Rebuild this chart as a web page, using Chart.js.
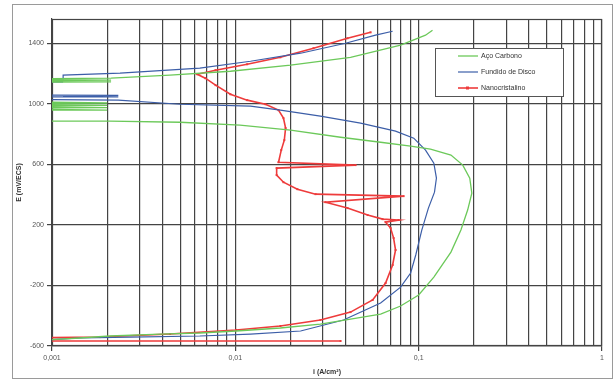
<!DOCTYPE html>
<html>
<head>
<meta charset="utf-8">
<script src="https://cdn.jsdelivr.net/npm/chart.js@4"></script>
<style>
  html, body { margin: 0; padding: 0; background: #fff; }
  canvas { display: block; }
</style>
</head>
<body>
<canvas id="curvas" width="615" height="381"></canvas>
<script>
// Polarization curves: potential E (mV) versus current density i (A/cm²)
const seriesNames = ['Aço Carbono', 'Fundido de Disco', 'Nanocristalino'];

// Aço Carbono
const acoCurrent = [0.00092, 0.00142, 0.00207, 0.0039, 0.0064, 0.0101, 0.0176, 0.0291, 0.0425, 0.062,
  0.0797, 0.1, 0.121, 0.15, 0.17, 0.185, 0.195, 0.19, 0.174, 0.15,
  0.116, 0.0904, 0.062, 0.0375, 0.02, 0.0106, 0.005, 0.00207, 0.0004,
  0.0004, 0.002, 0.0004, 0.002, 0.0004, 0.002, 0.0004, 0.002, 0.0004,
  0.0004, 0.0021, 0.0004, 0.0021, 0.0004, 0.0021,
  0.0044, 0.0094, 0.02, 0.0425, 0.0797, 0.109, 0.119];
const acoPotential = [-560, -547, -534, -521, -514, -501, -481, -455, -422, -389,
  -336, -263, -145, 20, 166, 298, 410, 509, 595, 661,
  700, 720, 746, 779, 826, 859, 878, 885, 885,
  958, 958, 970, 975, 985, 990, 1000, 1005, 1020,
  1142, 1145, 1150, 1156, 1162, 1169,
  1189, 1215, 1255, 1307, 1387, 1453, 1486];

// Fundido de Disco
const fundidoCurrent = [0.00092, 0.00142, 0.00267, 0.0064, 0.0121, 0.0227, 0.0389, 0.062, 0.0797, 0.0904,
  0.0964, 0.104, 0.113, 0.122, 0.125, 0.121, 0.109, 0.094, 0.0748, 0.0482,
  0.0291, 0.0176, 0.0121, 0.005, 0.0023, 0.0004,
  0.0004, 0.0023, 0.00115, 0.0023, 0.0004,
  0.0004, 0.00115, 0.0004, 0.00115,
  0.00115, 0.00235, 0.0064, 0.0121, 0.0227, 0.0399, 0.0582, 0.0721];
const fundidoPotential = [-560, -547, -541, -534, -521, -501, -428, -316, -211, -118,
  1, 166, 311, 416, 509, 608, 694, 773, 819, 872,
  918, 958, 984, 997, 1024, 1030,
  1045, 1045, 1050, 1055, 1060,
  1142, 1145, 1155, 1165,
  1189, 1202, 1235, 1281, 1334, 1400, 1453, 1479];

// Nanocristalino
const nanoCurrent = [0.0375, 0.0004, 0.0004, 0.00183, 0.0044, 0.0101, 0.0176, 0.0291, 0.0425, 0.0561,
  0.066, 0.0721, 0.0748, 0.073, 0.0703, 0.066, 0.0778, 0.0636, 0.0527, 0.0409,
  0.031, 0.0828, 0.0274, 0.0218, 0.0183, 0.0168, 0.0168, 0.0453, 0.0172, 0.0178,
  0.0185, 0.0188, 0.0183, 0.0172, 0.0146, 0.0116, 0.0094, 0.0078, 0.00686, 0.0062,
  0.0078, 0.0116, 0.0176, 0.0267, 0.0409, 0.0547];
const nanoPotential = [-567, -567, -550, -541, -521, -494, -468, -428, -376, -296,
  -184, -65, 34, 113, 179, 218, 232, 238, 265, 311,
  350, 390, 403, 436, 482, 529, 575, 595, 614, 694,
  760, 839, 905, 958, 997, 1024, 1063, 1123, 1169, 1195,
  1222, 1261, 1307, 1367, 1433, 1472];

// Axis ticks
const yTickValues = [-600, -200, 200, 600, 1000, 1400];
const xTickValues = [0.001, 0.01, 0.1, 1];
const xTickLabels = ['0,001', '0,01', '0,1', '1'];

const toPoints = (xs, ys) => xs.map((v, k) => ({ x: v, y: ys[k] }));
const isDecade = v => xTickValues.findIndex(d => Math.abs(v - d) / d < 1e-9);

const FONT = "'Liberation Sans', Arial, sans-serif";
const GRID = '#444';

// White background, outer frame and plot-area frame
const framePlugin = {
  id: 'framePlugin',
  beforeDraw(chart) {
    const { ctx, width, height } = chart;
    ctx.save();
    ctx.fillStyle = '#fff';
    ctx.fillRect(0, 0, width, height);
    ctx.strokeStyle = '#9a9a9a';
    ctx.lineWidth = 1;
    ctx.strokeRect(12.5, 4.5, width - 15, height - 7);
    ctx.restore();
  },
  beforeDatasetsDraw(chart) {
    const { ctx, chartArea: a } = chart;
    ctx.save();
    ctx.strokeStyle = GRID;
    ctx.lineWidth = 1.2;
    ctx.strokeRect(a.left + 0.5, a.top + 0.5, a.right - a.left - 1, a.bottom - a.top - 1);
    ctx.restore();
  }
};

// Legend box drawn inside the plot area, upper right
const insideLegend = {
  id: 'insideLegend',
  afterDatasetsDraw(chart) {
    const { ctx, chartArea: a } = chart;
    const w = a.right - a.left, h = a.bottom - a.top;
    const x0 = Math.round(a.left + w * 0.696), y0 = Math.round(a.top + h * 0.089);
    const bw = Math.round(w * 0.233), bh = Math.round(h * 0.147);
    ctx.save();
    ctx.fillStyle = '#fff';
    ctx.fillRect(x0, y0, bw, bh);
    ctx.strokeStyle = '#555';
    ctx.lineWidth = 1;
    ctx.strokeRect(x0 + 0.5, y0 + 0.5, bw, bh);
    ctx.font = '7px ' + FONT;
    ctx.textBaseline = 'middle';
    chart.data.datasets.forEach((ds, k) => {
      const yy = y0 + 8 + k * 16;
      ctx.strokeStyle = ds.borderColor;
      ctx.lineWidth = ds.borderWidth;
      ctx.beginPath();
      ctx.moveTo(x0 + 23, yy);
      ctx.lineTo(x0 + 43, yy);
      ctx.stroke();
      if (ds.pointRadius > 0) {
        ctx.fillStyle = ds.borderColor;
        ctx.fillRect(x0 + 31, yy - 1.5, 3, 3);
      }
      ctx.fillStyle = '#333';
      ctx.fillText(ds.label, x0 + 46, yy);
    });
    ctx.restore();
  }
};

new Chart(document.getElementById('curvas'), {
  type: 'scatter',
  data: {
    datasets: [
      {
        label: seriesNames[0],
        data: toPoints(acoCurrent, acoPotential),
        showLine: true,
        borderColor: '#6cc95a',
        backgroundColor: '#6cc95a',
        borderWidth: 1.3,
        pointRadius: 0
      },
      {
        label: seriesNames[1],
        data: toPoints(fundidoCurrent, fundidoPotential),
        showLine: true,
        borderColor: '#3c5ea8',
        backgroundColor: '#3c5ea8',
        borderWidth: 1.2,
        pointRadius: 0
      },
      {
        label: seriesNames[2],
        data: toPoints(nanoCurrent, nanoPotential),
        showLine: true,
        borderColor: '#ee3b3b',
        backgroundColor: '#ee3b3b',
        borderWidth: 1.6,
        pointRadius: 1.4,
        pointStyle: 'rect',
        pointBorderWidth: 0
      }
    ]
  },
  options: {
    responsive: false,
    devicePixelRatio: 1,
    animation: false,
    layout: { padding: { left: 0, top: 19, right: 13, bottom: 0 } },
    plugins: {
      legend: { display: false },
      tooltip: { enabled: false }
    },
    scales: {
      x: {
        type: 'logarithmic',
        position: 'bottom',
        min: xTickValues[0],
        max: xTickValues[xTickValues.length - 1],
        afterBuildTicks(scale) {
          const t = [];
          for (let d = 0; d < xTickValues.length - 1; d++) {
            for (let m = 1; m < 10; m++) t.push({ value: xTickValues[d] * m });
          }
          t.push({ value: xTickValues[xTickValues.length - 1] });
          scale.ticks = t;
        },
        afterFit(scale) { scale.height = 35; },
        grid: {
          color: GRID,
          lineWidth: 1.2,
          tickLength: 5,
          tickColor: c => (c.tick && isDecade(c.tick.value) >= 0) ? GRID : 'rgba(0,0,0,0)'
        },
        border: { display: true, color: GRID, width: 1.2 },
        ticks: {
          autoSkip: false,
          maxRotation: 0,
          padding: 3,
          color: '#555',
          font: { family: FONT, size: 7 },
          callback: v => { const k = isDecade(v); return k >= 0 ? xTickLabels[k] : ''; }
        },
        title: {
          display: true,
          text: 'i (A/cm²)',
          color: '#333',
          font: { family: FONT, size: 7, weight: 'bold' },
          padding: { top: 0, bottom: 5 }
        }
      },
      y: {
        type: 'linear',
        min: -600,
        max: 1560,
        afterBuildTicks(scale) { scale.ticks = yTickValues.map(v => ({ value: v })); },
        afterFit(scale) { scale.width = 52; },
        grid: { color: GRID, lineWidth: 1.2, tickLength: 5, tickColor: GRID },
        border: { display: true, color: GRID, width: 1.2 },
        ticks: {
          padding: 3,
          color: '#555',
          font: { family: FONT, size: 7 },
          callback: v => String(v)
        },
        title: {
          display: true,
          text: 'E (mV/ECS)',
          color: '#333',
          font: { family: FONT, size: 7, weight: 'bold' },
          padding: { top: 15, bottom: 0 }
        }
      }
    }
  },
  plugins: [framePlugin, insideLegend]
});
</script>
</body>
</html>
